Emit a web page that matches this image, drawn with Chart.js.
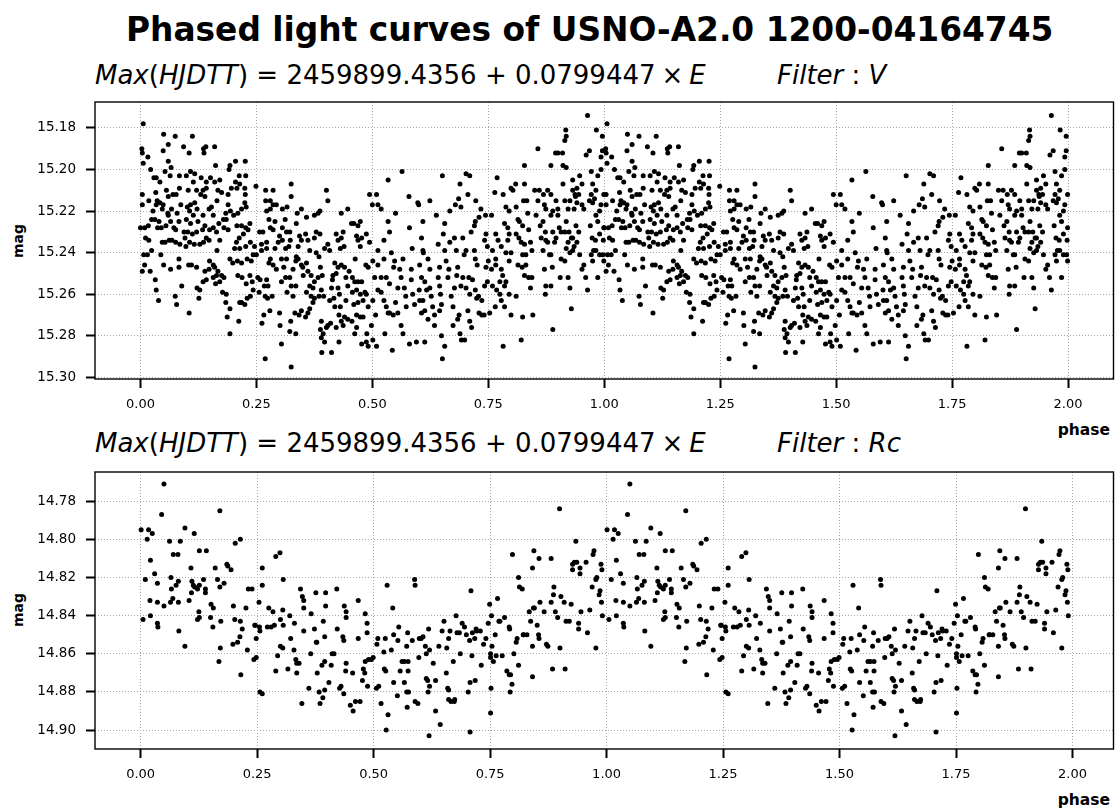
<!DOCTYPE html>
<html><head><meta charset="utf-8">
<script src="https://cdn.jsdelivr.net/npm/chart.js@4.4.1/dist/chart.umd.min.js"></script>
<style>
body{margin:0;width:1116px;height:810px;background:#fff;position:relative;overflow:hidden;font-family:'DejaVu Sans'}
.t{position:absolute;white-space:nowrap;color:#000;line-height:1}
#title{left:126px;top:14px;font-weight:bold;font-size:32.85px}
.sub{font-size:26px}
.sub i{font-style:italic}
.op{margin:0 6px}
canvas{position:absolute;left:0}
.ylab{font-weight:bold;font-size:14px;transform:translate(-50%,-50%) rotate(-90deg)}
.xlab{font-weight:bold;font-size:15.5px;right:6px}
</style></head><body>
<div id="title" class="t">Phased light curves of USNO-A2.0 1200-04164745</div>
<div class="t sub" style="left:95px;top:62px"><i>Max</i>(<i>HJDTT</i>) = 2459899.4356 + 0.0799447<span class="op">×</span><i>E</i></div>
<div class="t sub" style="left:777px;top:62px"><i>Filter</i> : <i>V</i></div>
<div class="t sub" style="left:95px;top:430px"><i>Max</i>(<i>HJDTT</i>) = 2459899.4356 + 0.0799447<span class="op">×</span><i>E</i></div>
<div class="t sub" style="left:777px;top:430px"><i>Filter</i> : <i>Rc</i></div>
<div class="t ylab" style="left:18px;top:241px">mag</div>
<div class="t ylab" style="left:18px;top:610px">mag</div>
<div class="t xlab" style="top:423px">phase</div>
<div class="t xlab" style="top:793px">phase</div>
<canvas id="c1" width="1116" height="345" style="top:95px"></canvas>
<canvas id="c2" width="1116" height="345" style="top:465px"></canvas>
<script>
// ---- tick labels ----
const phaseTicks = [0, 0.25, 0.5, 0.75, 1, 1.25, 1.5, 1.75, 2];
const vTicks = [15.18, 15.20, 15.22, 15.24, 15.26, 15.28, 15.30];
const rcTicks = [14.78, 14.80, 14.82, 14.84, 14.86, 14.88, 14.90];

// ---- V filter: phase (one cycle) and magnitude ----
const vPhase = [
.006,.003,.004,.016,.006,.022,.004,.004,.018,.000,.009,.017,.011,.018,.007,.015,.009,.004,.021,.024,.032,.034,.039,.029,.034,.033,.042,.036,.042,.034,.027,.024,.031,.040,.047,.050,.049,.053,.044,.053,.047,.050,.049,.045,.037,
.060,.066,.060,.064,.056,.070,.060,.067,.059,.065,.055,.072,.062,.068,.060,.075,.084,.077,.084,.087,.079,.083,.076,.094,.085,.076,.065,.075,.078,.083,.083,.089,.093,.099,
.105,.112,.108,.114,.117,.103,.121,.108,.117,.101,.106,.122,.099,.108,.114,.124,.102,.112,.121,.134,.096,.106,.098,.116,.128,.104,.110,.121,.105,.122,.128,.126,.136,.137,.141,.131,.142,.135,.142,.139,.130,.148,.153,.135,.139,.149,.142,.136,.148,.139,.135,.148,.149,.142,
.160,.162,.151,.160,.171,.167,.175,.165,.157,.169,.157,.164,.179,.184,.189,.191,.193,.196,.189,.194,.185,.180,.189,.171,.165,.157,.160,.167,.175,.164,.157,.171,.162,.180,.177,.185,.184,.193,.187,.193,.193,.199,
.205,.213,.205,.214,.208,.225,.226,.227,.226,.225,.228,.218,.210,.201,.208,.218,.227,.236,.232,.222,.213,.207,.203,.214,.227,.237,.230,.239,.243,.209,.218,.210,.219,.228,.236,.241,.243,.237,.230,.218,.214,.225,.212,.246,.249,
.270,.286,.270,.280,.286,.280,.293,.272,.277,.280,.286,.290,.257,.264,.272,.261,.250,.261,.272,.280,.277,.290,.297,.300,.253,.258,.272,.267,.275,.256,.269,.274,.284,.266,.262,.279,.300,.301,.304,.269,.286,.293,
.306,.316,.312,.306,.315,.306,.322,.323,.325,.325,.313,.320,.304,.315,.309,.313,.304,.322,.325,.316,.329,.335,.340,.336,.343,.347,.340,.347,.338,.336,.329,.335,.324,.322,.335,.325,.333,.342,.347,.347,.350,.351,
.358,.356,.361,.365,.358,.361,.368,.365,.358,.368,.375,.372,.365,.361,.356,.375,.372,.379,.375,.387,.383,.375,.387,.379,.385,.388,.392,.383,.390,.385,.395,.390,.388,.394,.390,.397,.391,.401,.404,
.404,.397,.408,.412,.414,.415,.408,.410,.404,.401,.412,.417,.419,.422,.426,.433,.437,.439,.431,.419,.426,.433,.422,.426,.429,.431,.428,.433,.437,.422,.428,.440,.447,.443,.447,.443,.450,.440,.433,.447,
.455,.460,.469,.474,.466,.469,.477,.474,.463,.457,.462,.469,.477,.466,.457,.474,.484,.480,.469,.460,.466,.474,.480,.456,.466,.462,.477,.488,.487,.491,.486,.491,.487,.491,.494,.500,.487,.494,
.509,.512,.519,.534,.537,.525,.512,.525,.512,.501,.505,.519,.530,.537,.512,.519,.501,.525,.530,.537,.545,.534,.507,.498,.501,.527,.543,.509,.541,.546,.550,.534,.550,.548,
.555,.562,.566,.559,.555,.562,.569,.572,.573,.566,.579,.564,.580,.584,.584,.580,.586,.587,.591,.595,.598,.601,.602,
.600,.609,.606,.609,.602,.610,.606,.613,.617,.609,.613,.606,.620,.613,.624,.620,.624,.624,.627,.630,.634,.634,.638,.642,.645,.642,.645,.647,.649,.645,.651,.649,.651,.656,.656,.653,
.656,.659,.663,.665,.667,.667,.670,.674,.677,.677,.681,.682,.684,.674,.684,.687,.689,.699,.692,.689,.679,.686,.691,.695,.702,.698,.695,.691,.702,.708,.710,.706,.710,.702,.710,.706,
.713,.720,.722,.730,.720,.722,.726,.723,.716,.722,.725,.729,.736,.730,.736,.741,.714,.742,.745,.744,.745,.748,.742,.734,.748,.750,
.757,.764,.769,.766,.771,.778,.759,.766,.757,.766,.778,.781,.788,.775,.785,.768,.759,.775,.778,.785,.765,.753,.782,.782,.785,.788,.795,.792,.795,.799,.795,.792,.799,.795,.799,.788,
.803,.809,.810,.814,.810,.816,.817,.824,.821,.828,.824,.831,.814,.823,.831,.828,.810,.824,.821,.828,.828,.826,.833,.835,.837,.841,.844,.837,.844,.841,.846,.850,.853,.857,
.857,.860,.862,.864,.868,.869,.871,.874,.868,.873,.874,.878,.882,.885,.871,.874,.873,.885,.888,.889,.878,.885,.885,.885,.889,.889,.893,.896,.895,.900,.896,.900,.900,.903,.907,.905,.907,
.910,.915,.918,.917,.911,.918,.911,.915,.926,.922,.918,.924,.929,.932,.922,.915,.918,.926,.932,.915,.926,.922,.929,.932,.932,.937,.935,.938,.941,.945,.941,.939,.945,.941,.935,.947,.952,.956,.960,.964,.947,.952,.952,.956,.964,.961,.968,
.972,.975,.972,.968,.975,.979,.982,.970,.974,.981,.990,.986,.982,.990,.993,.972,.977,.982,.990,.997,.975,.986,.983,.986,.993,.996,.996,.993,.999,.999,.998,.999
];
const vMag = [
15.178,15.190,15.192,15.194,15.197,15.200,15.212,15.217,15.215,15.228,15.228,15.227,15.233,15.234,15.241,15.241,15.246,15.249,15.249,15.239,15.253,15.258,15.263,15.204,15.204,15.211,15.206,15.215,15.216,15.217,15.220,15.224,15.224,15.225,15.219,15.183,15.191,15.201,15.241,15.235,15.235,15.246,15.217,15.228,15.228,
15.188,15.199,15.196,15.203,15.210,15.212,15.213,15.219,15.221,15.225,15.227,15.228,15.234,15.234,15.222,15.184,15.203,15.212,15.209,15.217,15.221,15.225,15.229,15.230,15.236,15.235,15.248,15.261,15.265,15.243,15.247,15.256,15.189,15.203,
15.192,15.184,15.201,15.206,15.202,15.210,15.210,15.217,15.216,15.218,15.220,15.219,15.224,15.226,15.222,15.225,15.230,15.231,15.230,15.229,15.233,15.235,15.237,15.236,15.236,15.246,15.246,15.247,15.269,15.257,15.258,15.262,15.190,15.192,15.189,15.204,15.206,15.210,15.209,15.213,15.212,15.219,15.218,15.222,15.227,15.229,15.233,15.235,15.234,15.249,15.254,15.248,15.244,15.253,
15.189,15.198,15.204,15.206,15.205,15.210,15.211,15.215,15.222,15.226,15.228,15.230,15.224,15.221,15.217,15.200,15.198,15.209,15.212,15.220,15.224,15.228,15.229,15.234,15.239,15.246,15.247,15.249,15.251,15.251,15.252,15.254,15.255,15.252,15.259,15.260,15.264,15.267,15.271,15.279,15.243,15.245,
15.196,15.203,15.206,15.207,15.209,15.209,15.196,15.203,15.212,15.216,15.218,15.219,15.221,15.222,15.227,15.227,15.228,15.226,15.229,15.231,15.233,15.235,15.238,15.238,15.237,15.235,15.243,15.244,15.241,15.244,15.245,15.251,15.252,15.255,15.251,15.254,15.258,15.261,15.262,15.264,15.264,15.265,15.273,15.237,15.208,
15.210,15.210,15.215,15.215,15.217,15.219,15.217,15.220,15.224,15.228,15.229,15.225,15.230,15.230,15.235,15.236,15.241,15.239,15.238,15.243,15.245,15.238,15.235,15.232,15.252,15.253,15.253,15.256,15.256,15.259,15.261,15.262,15.261,15.270,15.274,15.268,15.269,15.275,15.284,15.291,15.246,15.248,
15.219,15.218,15.224,15.228,15.230,15.234,15.230,15.234,15.213,15.207,15.238,15.237,15.243,15.243,15.247,15.252,15.254,15.252,15.256,15.259,15.248,15.244,15.243,15.242,15.232,15.234,15.237,15.219,15.221,15.226,15.261,15.256,15.273,15.278,15.279,15.295,15.269,15.270,15.268,15.246,15.247,15.251,
15.223,15.231,15.234,15.239,15.245,15.249,15.251,15.256,15.259,15.261,15.262,15.264,15.267,15.269,15.271,15.254,15.257,15.230,15.233,15.231,15.221,15.222,15.220,15.240,15.242,15.247,15.251,15.252,15.258,15.261,15.261,15.273,15.277,15.279,15.281,15.283,15.288,15.210,15.215,
15.236,15.238,15.239,15.257,15.253,15.251,15.263,15.274,15.275,15.276,15.288,15.262,15.266,15.231,15.234,15.233,15.230,15.237,15.238,15.245,15.247,15.246,15.250,15.257,15.260,15.266,15.270,15.273,15.275,15.276,15.283,15.271,15.272,15.263,15.256,15.252,15.249,15.247,15.221,15.219,
15.226,15.226,15.227,15.225,15.232,15.234,15.233,15.237,15.243,15.252,15.254,15.254,15.254,15.258,15.259,15.260,15.259,15.263,15.264,15.265,15.270,15.271,15.271,15.273,15.276,15.279,15.284,15.279,15.283,15.285,15.246,15.247,15.260,15.266,15.212,15.217,15.231,15.235,
15.212,15.217,15.219,15.225,15.230,15.234,15.239,15.243,15.246,15.244,15.252,15.252,15.252,15.255,15.258,15.259,15.263,15.263,15.266,15.269,15.270,15.269,15.270,15.275,15.282,15.279,15.287,15.285,15.240,15.247,15.264,15.205,15.221,15.244,
15.257,15.252,15.243,15.248,15.269,15.275,15.257,15.261,15.266,15.279,15.213,15.201,15.284,15.253,15.248,15.228,15.238,15.260,15.265,15.283,15.216,15.258,15.263,
15.217,15.225,15.233,15.239,15.246,15.240,15.252,15.254,15.258,15.263,15.268,15.269,15.272,15.283,15.215,15.243,15.248,15.257,15.261,15.266,15.270,15.275,15.222,15.236,15.247,15.252,15.256,15.260,15.265,15.268,15.203,15.280,15.291,15.285,15.226,15.231,
15.239,15.244,15.252,15.248,15.235,15.220,15.261,15.266,15.257,15.233,15.239,15.251,15.247,15.275,15.272,15.270,15.279,15.282,15.282,15.207,15.217,15.214,15.218,15.233,15.239,15.241,15.252,15.256,15.257,15.252,15.260,15.268,15.273,15.202,15.203,15.212,
15.230,15.227,15.225,15.223,15.239,15.243,15.246,15.215,15.253,15.258,15.262,15.261,15.263,15.269,15.270,15.270,15.276,15.234,15.231,15.222,15.247,15.254,15.256,15.219,15.237,15.244,
15.222,15.211,15.204,15.231,15.234,15.237,15.239,15.243,15.248,15.246,15.248,15.251,15.254,15.254,15.256,15.258,15.256,15.260,15.263,15.266,15.266,15.269,15.285,15.212,15.226,15.218,15.220,15.228,15.231,15.240,15.244,15.234,15.209,15.260,15.270,15.240,
15.210,15.207,15.218,15.224,15.231,15.233,15.225,15.227,15.235,15.236,15.241,15.241,15.246,15.247,15.246,15.251,15.261,15.271,15.282,15.198,15.207,15.215,15.215,15.221,15.229,15.235,15.239,15.252,15.252,15.257,15.270,15.210,15.222,15.190,
15.215,15.210,15.227,15.233,15.239,15.212,15.217,15.219,15.225,15.230,15.234,15.235,15.241,15.241,15.248,15.256,15.260,15.256,15.247,15.277,15.210,15.212,15.198,15.222,15.220,15.230,15.235,15.233,15.192,15.192,15.215,15.219,15.222,15.228,15.230,15.252,15.243,
15.192,15.186,15.184,15.181,15.198,15.199,15.207,15.215,15.215,15.219,15.225,15.230,15.233,15.233,15.235,15.230,15.238,15.240,15.239,15.244,15.257,15.252,15.267,15.205,15.210,15.212,15.219,15.213,15.216,15.212,15.209,15.227,15.230,15.235,15.237,15.241,15.248,15.246,15.252,15.258,15.203,15.207,15.217,15.219,15.174,15.193,15.191,
15.201,15.207,15.212,15.215,15.216,15.214,15.210,15.227,15.233,15.234,15.231,15.225,15.222,15.220,15.217,15.241,15.239,15.239,15.241,15.241,15.244,15.252,15.181,15.203,15.194,15.184,15.191,15.200,15.212,15.228,15.234,15.244
];

// ---- Rc filter: phase (one cycle) and magnitude ----
const rcPhase = [
.050,.045,.001,.017,.014,.025,.021,.010,.030,.036,.065,.062,.070,.080,.076,.081,.066,.069,.064,.085,.095,.115,.108,.113,.110,.116,.122,.126,.109,.104,.081,.050,.020,.036,.021,.005,.036,.037,.082,.095,
.126,.141,.135,.139,.151,.156,.125,.126,.122,.150,.155,.139,.160,.170,.165,.170,.179,.172,.171,.168,.185,.187,.194,.203,.214,.199,.202,.208,.213,.214,.218,.198,.215,.226,.231,.239,.229,.245,.248,.243,.248,
.254,.261,.261,.256,.255,.246,.256,.261,.275,.284,.280,.272,.287,.290,.299,.306,.300,.305,.306,.305,.300,.294,.290,.316,.320,.322,.329,.330,.333,.335,.335,.340,.343,.347,.350,.350,.350,.346,.361,.366,.365,.373,.377,.378,.376,.379,.383,.385,.389,.391,.392,.395,.395,.395,.397,.397,
.404,.409,.411,.415,.421,.422,.427,.430,.436,.434,.436,.441,.440,.437,.441,.441,.450,.456,.455,.461,.467,.467,.471,.476,.478,.482,.486,.486,.481,.482,.487,.489,.495,
.499,.507,.509,.506,.511,.516,.522,.523,.526,.525,.531,.527,.529,.538,.541,.543,.543,.552,.554,.551,.557,.561,.566,.566,.571,.571,.574,.573,.572,.574,.575,.583,.588,.589,.589,.595,.597,.598,
.602,.606,.611,.613,.613,.616,.617,.620,.618,.619,.620,.628,.633,.633,.640,.643,.647,.651,.656,.657,.659,.661,.661,.661,.664,.666,.674,.671,.673,.677,.679,.684,.686,.690,.695,.699,
.703,.706,.707,.709,.707,.711,.712,.717,.718,.720,.721,.729,.731,.736,.741,.746,.749,.751,.751,.751,.753,.752,.754,.757,.761,.763,.766,.769,.771,.776,.781,.786,.791,.794,.793,.797,.801,.798,.792,.791,
.806,.808,.811,.811,.813,.819,.821,.822,.829,.834,.837,.841,.841,.841,.844,.843,.845,.851,.854,.855,.857,.855,.866,.871,.874,.881,.881,.884,.886,.887,.890,.895,.899,.900,
.902,.909,.913,.911,.920,.924,.927,.927,.931,.934,.936,.940,.943,.943,.940,.945,.956,.959,.964,.969,.971,.973,.977,.979,.977,.984,.986,.988,.989,.990,.991
];
const rcMag = [
14.771,14.787,14.795,14.795,14.800,14.797,14.811,14.821,14.818,14.823,14.820,14.801,14.808,14.808,14.824,14.822,14.826,14.831,14.833,14.801,14.794,14.797,14.815,14.824,14.822,14.825,14.826,14.824,14.828,14.832,14.833,14.835,14.832,14.833,14.840,14.842,14.844,14.846,14.848,14.856,
14.806,14.806,14.821,14.828,14.834,14.836,14.838,14.841,14.842,14.841,14.846,14.826,14.815,14.785,14.821,14.825,14.823,14.843,14.857,14.864,14.813,14.814,14.816,14.802,14.800,14.835,14.842,14.854,14.851,14.843,14.847,14.855,14.871,14.836,14.826,14.826,14.858,14.845,14.852,14.863,14.862,
14.833,14.815,14.824,14.848,14.846,14.845,14.880,14.881,14.836,14.838,14.846,14.846,14.845,14.809,14.807,14.821,14.842,14.837,14.845,14.857,14.856,14.861,14.869,14.868,14.840,14.852,14.858,14.844,14.863,14.865,14.870,14.865,14.826,14.830,14.832,14.836,14.848,14.886,14.878,14.839,14.860,14.847,14.854,14.854,14.828,14.870,14.880,14.886,14.866,14.883,14.843,14.851,14.864,14.879,14.835,14.828,
14.875,14.866,14.860,14.860,14.826,14.847,14.878,14.877,14.881,14.851,14.853,14.865,14.869,14.835,14.838,14.841,14.887,14.890,14.870,14.885,14.852,14.832,14.885,14.874,14.868,14.839,14.844,14.849,14.870,14.864,14.877,14.863,14.863,
14.862,14.855,14.852,14.878,14.877,14.886,14.859,14.868,14.869,14.852,14.892,14.900,14.824,14.858,14.836,14.875,14.850,14.853,14.846,14.882,14.869,14.864,14.875,14.864,14.856,14.880,14.864,14.849,14.888,14.869,14.880,14.853,14.821,14.824,14.885,14.886,14.862,14.852,
14.852,14.851,14.856,14.860,14.873,14.874,14.880,14.877,14.847,14.903,14.858,14.865,14.874,14.890,14.856,14.897,14.848,14.843,14.870,14.857,14.878,14.879,14.884,14.852,14.848,14.885,14.884,14.864,14.885,14.840,14.849,14.849,14.860,14.844,14.846,14.850,
14.880,14.853,14.875,14.827,14.901,14.861,14.849,14.852,14.874,14.847,14.848,14.848,14.866,14.855,14.852,14.844,14.834,14.860,14.891,14.862,14.840,14.878,14.856,14.864,14.850,14.861,14.831,14.843,14.843,14.861,14.841,14.869,14.871,14.871,14.880,14.876,14.860,14.808,14.847,14.846,
14.854,14.852,14.866,14.820,14.825,14.826,14.850,14.850,14.850,14.838,14.843,14.872,14.856,14.815,14.806,14.836,14.836,14.845,14.850,14.810,14.833,14.852,14.838,14.855,14.856,14.810,14.833,14.868,14.829,14.825,14.838,14.841,14.784,14.857,
14.830,14.833,14.843,14.868,14.843,14.834,14.813,14.816,14.812,14.801,14.812,14.847,14.815,14.818,14.844,14.838,14.812,14.849,14.837,14.825,14.808,14.806,14.821,14.820,14.857,14.829,14.827,14.813,14.833,14.816,14.840
];

// ---- build two cycles (phase and phase + 1) ----
function twoCycles(ph, mg) {
  const n = Math.min(ph.length, mg.length), out = [];
  for (let i = 0; i < n; i++) out.push({x: ph[i], y: mg[i]});
  for (let i = 0; i < n; i++) out.push({x: ph[i] + 1, y: mg[i]});
  return out;
}

Chart.defaults.font.family = "'DejaVu Sans'";
const framePlugin = {
  id: 'frame',
  afterDraw(c) {
    const {ctx, chartArea: a} = c;
    ctx.save(); ctx.strokeStyle = '#000'; ctx.lineWidth = 1.4;
    ctx.strokeRect(a.left, a.top, a.right - a.left, a.bottom - a.top);
    ctx.restore();
  }
};

function makeChart(id, ph, mg, yMin, yMax, xMax, yTicks) {
  new Chart(document.getElementById(id), {
    type: 'scatter',
    data: {datasets: [{data: twoCycles(ph, mg), pointRadius: 2.5, pointHoverRadius: 2.5,
      pointBackgroundColor: '#000', pointBorderWidth: 0}]},
    options: {
      responsive: false, animation: false, events: [],
      layout: {padding: {top: 7, right: 1, left: 0, bottom: 0}},
      plugins: {legend: {display: false}, tooltip: {enabled: false}},
      scales: {
        x: {type: 'linear', min: -0.098, max: xMax,
          afterBuildTicks: s => { s.ticks = phaseTicks.map(v => ({value: v})); },
          afterFit: s => { s.height = 61; s.paddingLeft = 0; s.paddingRight = 0; },
          ticks: {callback: v => Number(v).toFixed(2), color: '#000', font: {size: 13}, padding: 9, maxRotation: 0, autoSkip: false},
          grid: {color: '#a8a8a8', lineWidth: 1, tickColor: '#000', tickWidth: 2, tickLength: 9, drawTicks: true},
          border: {display: false, dash: [1, 2]}},
        y: {type: 'linear', reverse: true, min: yMin, max: yMax,
          afterBuildTicks: s => { s.ticks = yTicks.map(v => ({value: v})); },
          afterFit: s => { s.width = 95; s.paddingTop = 0; s.paddingBottom = 0; },
          ticks: {callback: v => Number(v).toFixed(2), color: '#000', font: {size: 13.5}, padding: 10, autoSkip: false},
          grid: {color: '#a8a8a8', lineWidth: 1, tickColor: '#000', tickWidth: 2, tickLength: 9, drawTicks: true},
          border: {display: false, dash: [1, 2]}}
      }
    },
    plugins: [framePlugin]
  });
}

makeChart('c1', vPhase, vMag, 15.1675, 15.3008, 2.098, vTicks);
makeChart('c2', rcPhase, rcMag, 14.7647, 14.9099, 2.088, rcTicks);
</script>
</body></html>
